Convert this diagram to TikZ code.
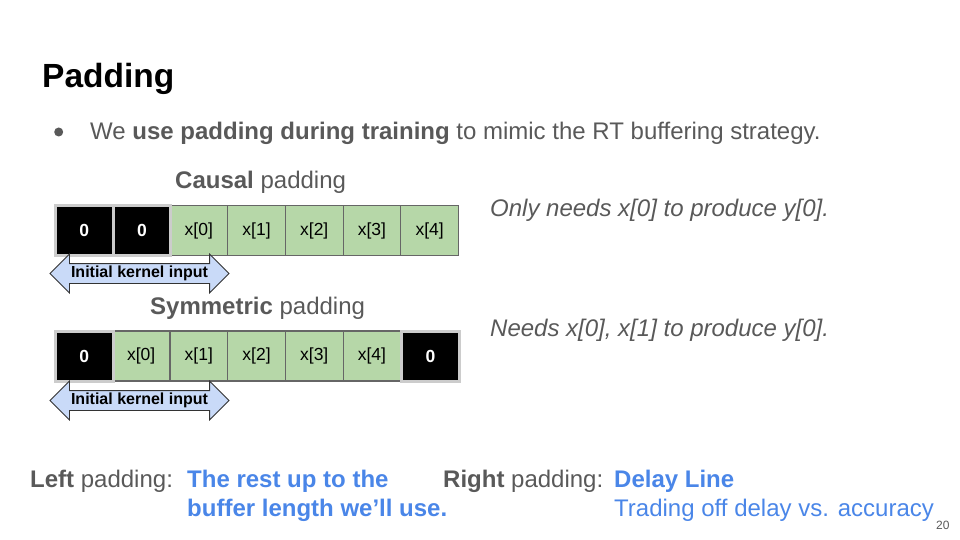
\documentclass[tikz,border=0pt]{standalone}
\usepackage{fontspec}
\setmainfont{Liberation Sans}
\usetikzlibrary{shapes.arrows}
\definecolor{txtgray}{HTML}{595959}
\definecolor{linkblue}{HTML}{4A86E8}
\definecolor{cellgreen}{HTML}{B6D7A8}
\definecolor{arrowblue}{HTML}{C9DAF8}
\definecolor{padframe}{HTML}{CCCCCC}
\definecolor{cellline}{HTML}{666666}
\newcommand\bodyfont{\fontsize{24}{29}\selectfont}
\newcommand\cellfont{\fontsize{17.5}{19}\selectfont}
\begin{document}
\begin{tikzpicture}[x=1pt,y=-1pt,
  cell/.style={minimum width=57.7pt, minimum height=50pt, inner sep=0pt, anchor=west, font=\cellfont},
  zero/.style={cell, fill=black, draw=padframe, line width=3pt, text=white, font=\cellfont\bfseries},
  data/.style={cell, fill=cellgreen, draw=cellline, line width=1.2pt},
  kernel/.style={double arrow, double arrow tip angle=90, double arrow head extend=9.5pt,
    minimum height=179pt, inner xsep=0pt, inner ysep=2.5pt, text height=11pt, text depth=3pt,
    fill=arrowblue, draw=black!80, line width=0.8pt, font=\fontsize{16}{18}\selectfont\bfseries},
  label/.style={anchor=base west, inner sep=0pt, text=txtgray, font=\bodyfont},
  note/.style={label, font=\bodyfont\itshape},
  blue/.style={label, text=linkblue, align=left}
]
\useasboundingbox (0,0) rectangle (960,540);

% title and bullet
\node[anchor=base west, inner sep=0pt, font=\fontsize{33.5}{38}\selectfont\bfseries] (title) at (42,88) {Padding};
\node[circle, fill=txtgray, inner sep=0pt, minimum size=9pt] (dot) at (58.7,132) {};
\node[label] (intro) at (90,139.5) {We \textbf{use padding during training} to mimic the RT buffering strategy.};

% causal padding row
\node[label] (causal) at (175,188) {\textbf{Causal} padding};
\node[data] (a3) at (169.4,230.5) {x[0]};
\node[data] (a4) at (227.1,230.5) {x[1]};
\node[data] (a5) at (284.8,230.5) {x[2]};
\node[data] (a6) at (342.5,230.5) {x[3]};
\node[data] (a7) at (400.2,230.5) {x[4]};
\node[zero] (a1) at (54,230.5) {0};
\node[zero] (a2) at (111.7,230.5) {0};
\node[kernel] (ka) at (139.5,273.5) {Initial kernel input};
\node[note] (causalnote) at (490,216.5) {Only needs x[0] to produce y[0].};

% symmetric padding row
\node[label] (sym) at (150,314.5) {\textbf{Symmetric} padding};
\node[data] (b2) at (111.7,356) {x[0]};
\node[data] (b3) at (169.4,356) {x[1]};
\node[data] (b4) at (227.1,356) {x[2]};
\node[data] (b5) at (284.8,356) {x[3]};
\node[data] (b6) at (342.5,356) {x[4]};
\node[zero] (b1) at (54,356) {0};
\node[zero] (b7) at (400.2,356) {0};
\node[kernel] (kb) at (139.5,400.5) {Initial kernel input};
\node[note] (symnote) at (490,336.5) {Needs x[0], x[1] to produce y[0].};

% summary at the bottom (multi-line nodes sit on their last baseline)
\node[label] (left) at (30,487.5) {\textbf{Left} padding:};
\node[blue, font=\bodyfont\bfseries] (lefttext) at (187,516.5) {The rest up to the\\buffer length we’ll use.};
\node[label] (right) at (443,487.5) {\textbf{Right} padding:};
\node[blue] (righttext) at (614,516.5) {\textbf{Delay Line}\\Trading off delay vs. accuracy};

\node[anchor=base west, inner sep=0pt, text=txtgray, font=\fontsize{12}{14}\selectfont] (page) at (936,529) {20};
\end{tikzpicture}
\end{document}
